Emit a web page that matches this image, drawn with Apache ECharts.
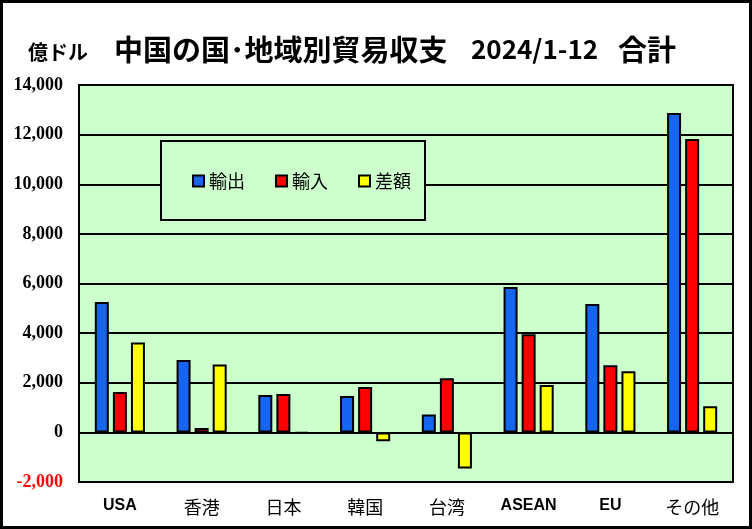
<!DOCTYPE html>
<html>
<head>
<meta charset="utf-8">
<script src="https://cdn.jsdelivr.net/npm/echarts@6/dist/echarts.min.js"></script>
<style>
  html, body { margin: 0; padding: 0; background: #fff; }
  #chart { width: 752px; height: 529px; }
</style>
</head>
<body>
<div id="chart"></div>
<script>
// 国・地域
const categories = ['USA', '香港', '日本', '韓国', '台湾', 'ASEAN', 'EU', 'その他'];
// 億ドル
const exportValues = [5250, 2920, 1510, 1470, 720, 5860, 5170, 12870];
const importValues = [1630, 180, 1550, 1830, 2180, 3950, 2710, 11820];
const balanceValues = [3620, 2740, -40, -360, -1460, 1910, 2460, 1050];
const seriesNames = ['輸出', '輸入', '差額'];
const seriesColors = ['#1565f0', '#ff0000', '#ffff00'];

const cjk = '"Noto Sans CJK JP", "Noto Sans", sans-serif';
const myChart = echarts.init(document.getElementById('chart'));

const makeSeries = (name, data, color) => ({
  name,
  type: 'bar',
  data,
  barWidth: 14,
  barGap: '29%',
  itemStyle: { color, borderColor: '#000', borderWidth: 2 },
  emphasis: { disabled: true }
});

const titleStyle = { fontFamily: cjk, fontSize: 29, fontWeight: 'bold', color: '#000' };

const option = {
  backgroundColor: '#fff',
  animation: false,
  title: {
    text: '{a|中国の国･地域別貿易収支}{b|2024/1-12}{c|合計}',
    left: 109,
    top: 30,
    textStyle: {
      rich: {
        a: Object.assign({}, titleStyle, { width: 357 }),
        b: Object.assign({}, titleStyle, { width: 147, fontSize: 26 }),
        c: titleStyle
      }
    }
  },
  legend: {
    data: seriesNames,
    icon: 'rect',
    left: 187,
    top: 167,
    itemWidth: 11,
    itemHeight: 11,
    itemGap: 30,
    z: 10,
    textStyle: { fontFamily: cjk, fontSize: 18, color: '#000' }
  },
  grid: {
    left: 79,
    right: 19,
    top: 85,
    bottom: 47,
    show: true,
    backgroundColor: '#ccffcc',
    borderColor: '#000',
    borderWidth: 2
  },
  xAxis: {
    type: 'category',
    data: categories,
    axisLine: { show: false, onZero: false },
    axisTick: { show: false },
    axisLabel: {
      interval: 0,
      margin: 16,
      formatter: (v) => /^[A-Z]+$/.test(v) ? `{en|${v}}` : `{ja|${v}}`,
      rich: {
        en: { fontFamily: '"Liberation Sans", Arial, sans-serif', fontWeight: 'bold', fontSize: 16, color: '#000' },
        ja: { fontFamily: cjk, fontSize: 18, color: '#000' }
      }
    }
  },
  yAxis: {
    type: 'value',
    min: -2000,
    max: 14000,
    interval: 2000,
    axisLine: { show: false },
    axisTick: { show: false },
    splitLine: { lineStyle: { color: '#000', width: 2 } },
    axisLabel: {
      margin: 16,
      fontFamily: '"Liberation Serif", "Times New Roman", serif',
      fontWeight: 'bold',
      fontSize: 18,
      color: (v) => (v < 0 ? '#ff0000' : '#000'),
      formatter: (v) => v.toLocaleString('en-US')
    }
  },
  graphic: [
    {
      // 凡例の枠
      type: 'rect',
      z: 5,
      shape: { x: 161, y: 141, width: 264, height: 79 },
      style: { fill: '#ccffcc', stroke: '#000', lineWidth: 2 }
    },
    {
      type: 'text',
      left: 28,
      top: 42,
      style: { text: '億ドル', fontFamily: cjk, fontSize: 20, fontWeight: 'bold', fill: '#000' }
    },
    {
      // 外枠
      type: 'rect',
      z: 20,
      shape: { x: 1.5, y: 1.5, width: 749, height: 526 },
      style: { fill: 'none', stroke: '#000', lineWidth: 3 }
    }
  ],
  series: [
    makeSeries(seriesNames[0], exportValues, seriesColors[0]),
    makeSeries(seriesNames[1], importValues, seriesColors[1]),
    makeSeries(seriesNames[2], balanceValues, seriesColors[2])
  ]
};

myChart.setOption(option);
</script>
</body>
</html>
